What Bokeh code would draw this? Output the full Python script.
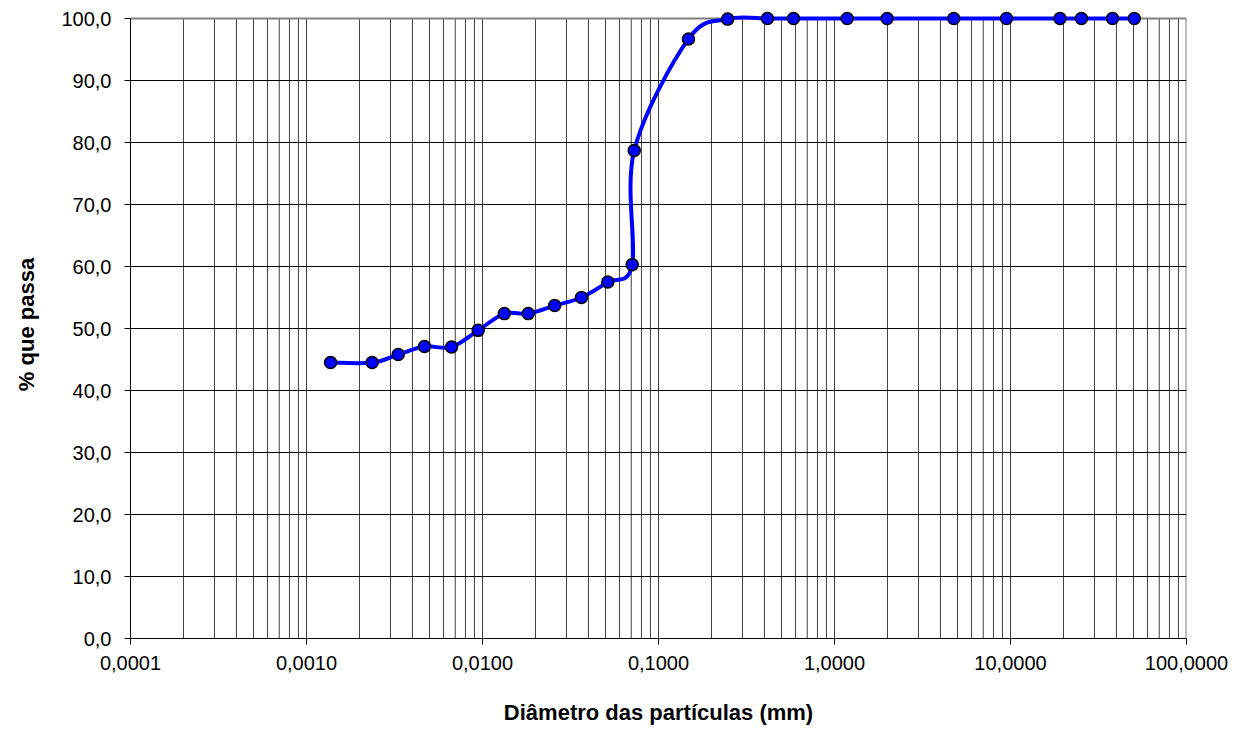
import numpy as np
from bokeh.plotting import figure
from bokeh.models import FixedTicker, CustomJSTickFormatter, Range1d
from bokeh.embed import file_html
from bokeh.resources import INLINE

# ---------------- data ----------------
diametro_mm = [0.00137, 0.00236, 0.00332, 0.00468, 0.00667, 0.00945, 0.0133,
               0.0182, 0.0257, 0.0365, 0.0515, 0.0709, 0.0728, 0.148, 0.247,
               0.416, 0.585, 1.18, 1.99, 4.76, 9.49, 19.1, 25.3, 38.0, 50.5]
passa_pct = [44.5, 44.5, 45.8, 47.1, 47.0, 49.7, 52.4, 52.4, 53.7, 55.0, 57.5,
             60.3, 78.7, 96.7, 99.9, 100.0, 100.0, 100.0, 100.0, 100.0, 100.0,
             100.0, 100.0, 100.0, 100.0]
x_decades = [0.0001, 0.001, 0.01, 0.1, 1.0, 10.0, 100.0]
y_ticks = [0, 10, 20, 30, 40, 50, 60, 70, 80, 90, 100]
x_title = "Diâmetro das partículas (mm)"
y_title = "% que passa"

# ---------------- layout ----------------
W, H = 1236, 731
LEFT, RIGHT, BOTTOM = 130, 50, 93
TOP_AT_100 = 18
PAD = 8  # extra px above 100 so markers are not clipped
plot_h_100 = H - BOTTOM - TOP_AT_100
y_end = y_ticks[-1] + (y_ticks[-1] - y_ticks[0]) * PAD / plot_h_100

FONT = "Liberation Sans"

p = figure(width=W, height=H, x_axis_type="log",
           x_range=Range1d(x_decades[0], x_decades[-1]),
           y_range=Range1d(y_ticks[0], y_end),
           output_backend="svg", toolbar_location=None,
           min_border_left=LEFT, min_border_right=RIGHT,
           min_border_top=TOP_AT_100 - PAD, min_border_bottom=BOTTOM)
p.outline_line_color = None
p.background_fill_color = "white"
p.border_fill_color = "white"
p.xgrid.visible = False
p.ygrid.ticker = FixedTicker(ticks=y_ticks[1:-1])
p.ygrid.grid_line_color = "#000000"
p.ygrid.grid_line_width = 1

# vertical grid (decades + minor 2..9), limited to 0..100
minors = [m * d for d in x_decades[:-1] for m in range(2, 10)]
vx = list(x_decades[1:-1]) + minors
p.segment(x0=vx, y0=[y_ticks[0]] * len(vx), x1=vx, y1=[y_ticks[-1]] * len(vx),
          line_color="#404040", line_width=1, level="underlay")
# top and right frame border (gray)
p.segment(x0=[x_decades[0], x_decades[-1]], y0=[y_ticks[-1], y_ticks[0]],
          x1=[x_decades[-1], x_decades[-1]], y1=[y_ticks[-1], y_ticks[-1]],
          line_color="#808080", line_width=2, level="underlay")

# axes
xa = p.xaxis[0]
xa.ticker = FixedTicker(ticks=x_decades, minor_ticks=[])
xa.formatter = CustomJSTickFormatter(code="return tick.toFixed(4).replace('.', ',');")
ya = p.yaxis[0]
ya.ticker = FixedTicker(ticks=y_ticks, minor_ticks=[])
ya.formatter = CustomJSTickFormatter(code="return tick.toFixed(1).replace('.', ',');")
ya.bounds = (y_ticks[0], y_ticks[-1])
for ax in (xa, ya):
    ax.major_tick_out = 6
    ax.major_tick_in = 0
    ax.minor_tick_line_color = None
    ax.major_tick_line_color = "#000000"
    ax.axis_line_color = "#000000"
    ax.axis_line_width = 1
    ax.major_label_text_font = FONT
    ax.major_label_text_font_size = "20px"
    ax.major_label_text_color = "#000000"
    ax.axis_label_text_font = FONT
    ax.axis_label_text_font_size = "22px"
    ax.axis_label_text_font_style = "bold"
    ax.axis_label_text_color = "#000000"
xa.axis_label = x_title
ya.axis_label = y_title
xa.major_label_standoff = 11
xa.axis_label_standoff = 27
ya.major_label_standoff = 13
ya.axis_label_standoff = 19

# smoothed curve (Catmull-Rom -> cubic Bezier in log-x space)
lx = np.log10(np.array(diametro_mm))
yy = np.array(passa_pct)
n = len(lx)
x0, y0, x1, y1, cx0, cy0, cx1, cy1 = [], [], [], [], [], [], [], []
for i in range(n - 1):
    a = max(i - 1, 0)
    b = min(i + 2, n - 1)
    c1x = lx[i] + (lx[i + 1] - lx[a]) / 6.0
    c1y = yy[i] + (yy[i + 1] - yy[a]) / 6.0
    c2x = lx[i + 1] - (lx[b] - lx[i]) / 6.0
    c2y = yy[i + 1] - (yy[b] - yy[i]) / 6.0
    x0.append(10 ** lx[i]); y0.append(yy[i])
    x1.append(10 ** lx[i + 1]); y1.append(yy[i + 1])
    cx0.append(10 ** c1x); cy0.append(c1y)
    cx1.append(10 ** c2x); cy1.append(c2y)
p.bezier(x0=x0, y0=y0, x1=x1, y1=y1, cx0=cx0, cy0=cy0, cx1=cx1, cy1=cy1,
         line_color="#0000FF", line_width=4, line_cap="round")

p.scatter(diametro_mm, passa_pct, size=12, fill_color="#0000FF",
          line_color="#000000", line_width=1.5)

open("out.html", "w").write(file_html(p, INLINE))
